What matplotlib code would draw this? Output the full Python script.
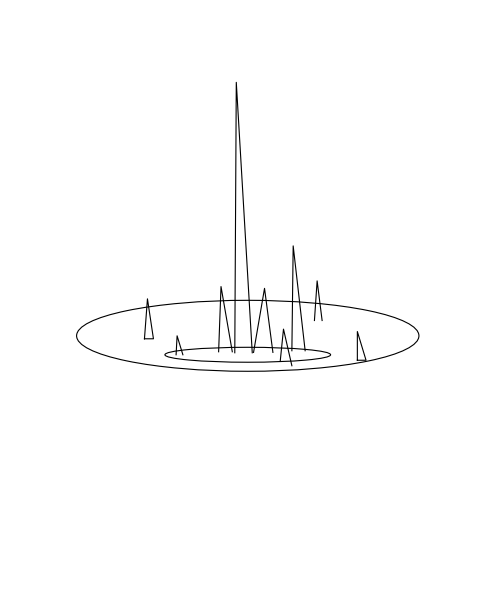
import matplotlib

matplotlib.use("Agg")
import matplotlib.pyplot as plt
from matplotlib.patches import Ellipse
import mpl_toolkits.mplot3d.art3d as art3d

# Rings lying on the ground plane (z = 0)
ring_cx = [0.0, 0.0]
ring_cy = [0.0, -91.4]
ring_rx = [171.5, 83.0]
ring_ry = [171.0, 36.0]

# Spikes: base from (x_left, y_left) to (x_right, y_right), apex above (x_apex, y_left)
spike_x_left = [-103.5, -71.8, -29.2, -13.0, 5.8, 44.2, 66.8, 32.5, 109.8]
spike_x_right = [-94.5, -65.0, -15.5, 4.5, 25.2, 57.5, 74.5, 44.2, 118.5]
spike_x_apex = [-100.5, -70.8, -26.8, -11.5, 16.8, 45.5, 69.5, 35.8, 109.8]
spike_y_left = [-14.4, -91.4, -77.0, -81.8, -80.0, -72.0, 73.6, -123.6, -117.8]
spike_y_right = [-14.4, -91.4, -77.0, -81.8, -80.0, -72.0, 73.6, -144.3, -117.8]
spike_height = [40.9, 19.4, 66.8, 277.0, 65.6, 107.4, 40.6, 33.1, 29.4]
spike_closed = [True, False, False, False, False, False, False, False, True]

fig = plt.figure(figsize=(4.99, 6.0), dpi=100)
ax = fig.add_axes([-0.017, -0.0107, 1, 1], projection="3d", proj_type="ortho")
ax.view_init(elev=12, azim=-90)

for cx, cy, rx, ry in zip(ring_cx, ring_cy, ring_rx, ring_ry):
    ring = Ellipse((cx, cy), 2 * rx, 2 * ry, fill=False, edgecolor="black", lw=0.8)
    ax.add_patch(ring)
    art3d.pathpatch_2d_to_3d(ring, z=0, zdir="z")

for xl, xr, xa, yl, yr, h, closed in zip(
    spike_x_left, spike_x_right, spike_x_apex,
    spike_y_left, spike_y_right, spike_height, spike_closed,
):
    xs = [xl, xa, xr]
    ys = [yl, yl, yr]
    zs = [0, h, 0]
    if closed:
        xs.append(xl)
        ys.append(yl)
        zs.append(0)
    ax.plot(xs, ys, zs, color="black", lw=0.8)

ax.set_xlim(-180, 180)
ax.set_ylim(-180, 180)
ax.set_zlim(-205, 279)
ax.set_box_aspect((360, 360, 484), zoom=1.364)
ax.set_axis_off()

fig.savefig("out.png", dpi=100, facecolor="white")
